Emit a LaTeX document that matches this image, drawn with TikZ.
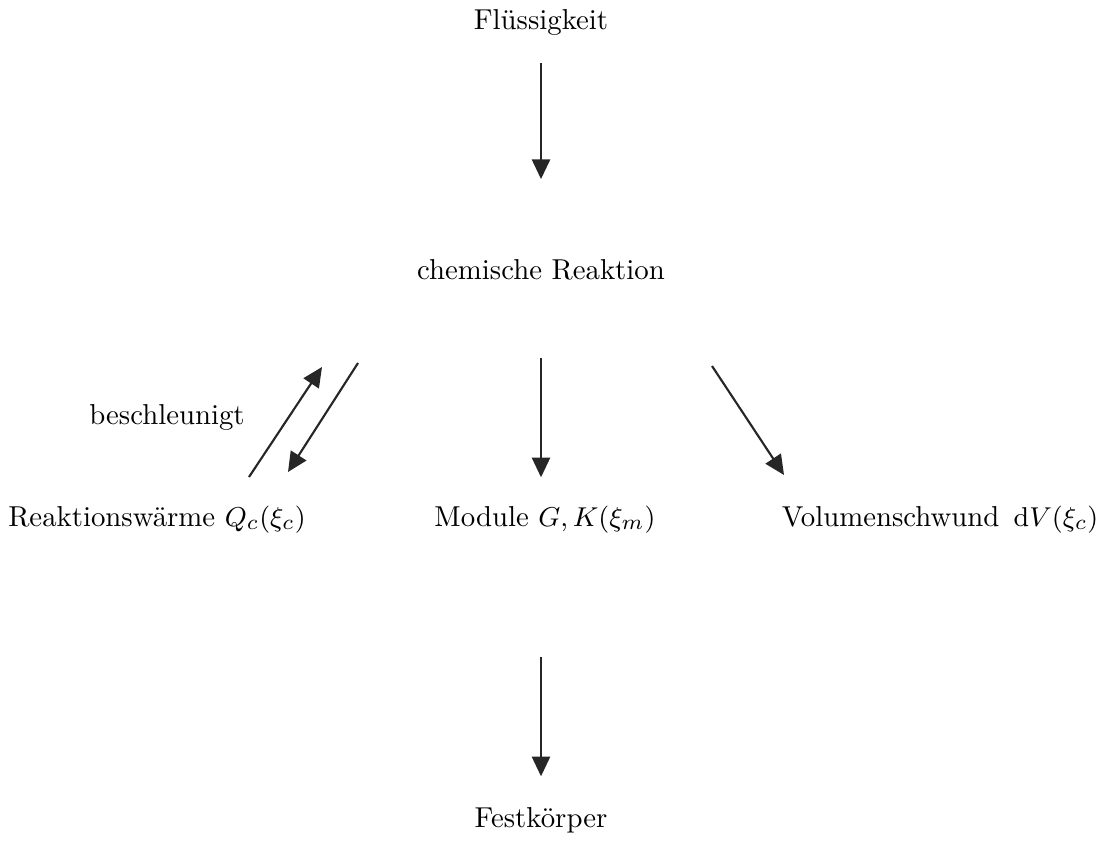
\documentclass[tikz,border=0pt]{standalone}
\usetikzlibrary{arrows.meta}
\begin{document}
\begin{tikzpicture}[x=0.33pt,y=-0.33pt,
  lbl/.style={inner sep=0pt, anchor=center, font=\fontsize{9.5}{11}\selectfont},
  arr/.style={line width=0.7pt, draw=black!85, -{Triangle[length=6.5pt,width=6pt]}}]
\useasboundingbox (0,0) rectangle (1109,859);
\node[lbl] (fl) at (541,22) {Flüssigkeit};
\node[lbl] (cr) at (541,270) {chemische Reaktion};
\node[lbl] (be) at (167,417) {beschleunigt};
\node[lbl] (rw) at (157,520) {Reaktionswärme $Q_c(\xi_c)$};
\node[lbl] (mo) at (545,520) {Module $G,K(\xi_m)$};
\node[lbl] (vs) at (940,520) {Volumenschwund $\,\mathrm{d}V(\xi_c)$};
\node[lbl] (fk) at (541,820) {Festkörper};
\coordinate (u1) at (249,477);
\coordinate (u2) at (322,367);
\coordinate (d1) at (358,363);
\coordinate (d2) at (288,472);
\coordinate (r1) at (712,366);
\coordinate (r2) at (784,475);
\draw[arr, shorten <=9pt, shorten >=26.4pt] (fl) -- (cr);
\draw[arr, shorten <=25.4pt, shorten >=9.4pt] (cr.south -| 541,0) -- (mo.north -| 541,0);
\draw[arr, shorten <=40.5pt, shorten >=10pt] (mo.south -| 541,0) -- (fk);
\draw[arr] (u1) -- (u2);
\draw[arr] (d1) -- (d2);
\draw[arr] (r1) -- (r2);
\end{tikzpicture}
\end{document}
